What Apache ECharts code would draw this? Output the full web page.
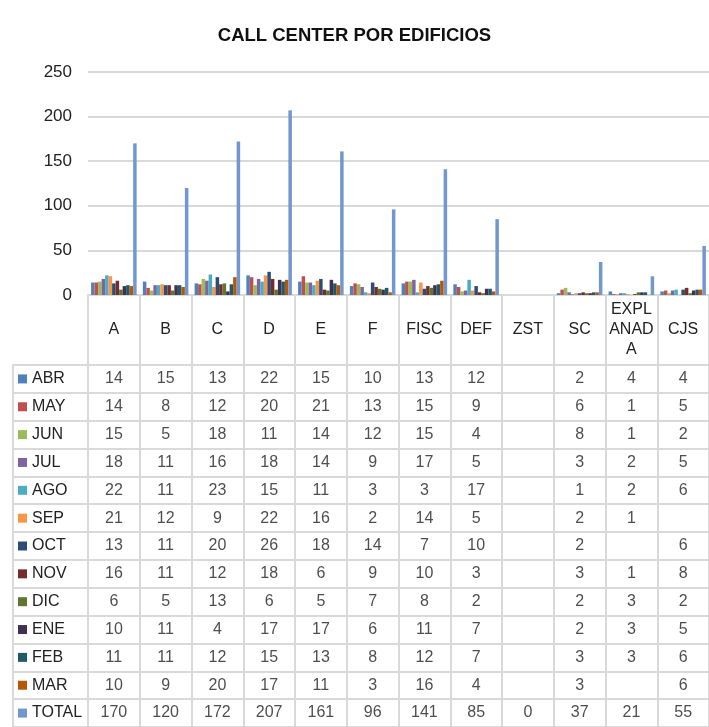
<!DOCTYPE html>
<html>
<head>
<meta charset="utf-8">
<script src="https://cdn.jsdelivr.net/npm/echarts@6/dist/echarts.min.js"></script>
<style>
html, body { margin: 0; padding: 0; background: #fff; }
#chart { width: 709px; height: 727px; }
</style>
</head>
<body>
<div id="chart"></div>
<script>
var edificios = ['A', 'B', 'C', 'D', 'E', 'F', 'FISC', 'DEF', 'ZST', 'SC', 'EXPLANADA', 'CJS'];
var meses = ['ABR', 'MAY', 'JUN', 'JUL', 'AGO', 'SEP', 'OCT', 'NOV', 'DIC', 'ENE', 'FEB', 'MAR', 'TOTAL'];

var abr = [14, 15, 13, 22, 15, 10, 13, 12, null, 2, 4, 4];
var may = [14, 8, 12, 20, 21, 13, 15, 9, null, 6, 1, 5];
var jun = [15, 5, 18, 11, 14, 12, 15, 4, null, 8, 1, 2];
var jul = [18, 11, 16, 18, 14, 9, 17, 5, null, 3, 2, 5];
var ago = [22, 11, 23, 15, 11, 3, 3, 17, null, 1, 2, 6];
var sep = [21, 12, 9, 22, 16, 2, 14, 5, null, 2, 1, null];
var oct = [13, 11, 20, 26, 18, 14, 7, 10, null, 2, null, 6];
var nov = [16, 11, 12, 18, 6, 9, 10, 3, null, 3, 1, 8];
var dic = [6, 5, 13, 6, 5, 7, 8, 2, null, 2, 3, 2];
var ene = [10, 11, 4, 17, 17, 6, 11, 7, null, 2, 3, 5];
var feb = [11, 11, 12, 15, 13, 8, 12, 7, null, 3, 3, 6];
var mar = [10, 9, 20, 17, 11, 3, 16, 4, null, 3, null, 6];
var total = [170, 120, 172, 207, 161, 96, 141, 85, 0, 37, 21, 55];

var valores = [abr, may, jun, jul, ago, sep, oct, nov, dic, ene, feb, mar, total];
var colores = ['#4F81BD', '#C0504D', '#9BBB59', '#8064A2', '#4BACC6', '#F79646',
               '#2C4D75', '#772C2A', '#5F7530', '#403152', '#215968', '#B65708', '#7297CF'];

var FONT = "'Liberation Sans', Arial, sans-serif";
var GRIS = '#d9d9d9';
var TEXTO = '#222';
var TAM = 16;

var myChart = echarts.init(document.getElementById('chart'));

// barras por mes
var series = meses.map(function (m, i) {
    return {
        name: m,
        type: 'bar',
        xAxisIndex: 0,
        yAxisIndex: 0,
        data: valores[i],
        itemStyle: { color: colores[i] },
        barGap: 0,
        barCategoryGap: '12%',
        silent: true
    };
});

// celdas de la tabla de datos
var celdas = [];
valores.forEach(function (fila, r) {
    fila.forEach(function (v, c) {
        if (v !== null) celdas.push([c, r, v]);
    });
});
series.push({
    type: 'scatter',
    xAxisIndex: 1,
    yAxisIndex: 1,
    data: celdas,
    symbolSize: 1,
    itemStyle: { color: 'transparent' },
    silent: true,
    label: {
        show: true,
        position: 'inside',
        formatter: function (p) { return p.value[2]; },
        fontFamily: FONT,
        fontSize: TAM,
        color: TEXTO
    }
});

var rich = {};
colores.forEach(function (c, i) {
    rich['s' + i] = { width: 9, height: 9, backgroundColor: c };
});
rich.t = { fontFamily: FONT, fontSize: TAM, color: TEXTO, padding: [0, 0, 0, 5] };

option = {
    backgroundColor: '#fff',
    animation: false,
    title: {
        text: 'CALL CENTER POR EDIFICIOS',
        left: 'center',
        top: 21,
        textStyle: { fontFamily: FONT, fontSize: 18.5, fontWeight: 'bold', color: '#111' }
    },
    grid: [
        { left: 88, right: -2, top: 72, height: 223 },
        { left: 88, right: -2, top: 365, bottom: -2, show: true, borderColor: GRIS, borderWidth: 2 }
    ],
    xAxis: [
        {
            type: 'category',
            gridIndex: 0,
            data: edificios,
            axisLine: { show: true, lineStyle: { color: GRIS, width: 2 } },
            axisTick: { show: true, length: 69, interval: 0, lineStyle: { color: GRIS, width: 2 } },
            axisLabel: {
                interval: 0,
                margin: 35,
                verticalAlign: 'middle',
                lineHeight: 20,
                fontFamily: FONT,
                fontSize: TAM,
                color: TEXTO,
                formatter: function (v) {
                    return v.length > 5 ? v.match(/.{1,4}/g).join('\n') : v;
                }
            }
        },
        {
            type: 'category',
            gridIndex: 1,
            data: edificios,
            axisLine: { show: false },
            axisTick: { show: false },
            axisLabel: { show: false },
            splitLine: { show: true, interval: 0, lineStyle: { color: GRIS, width: 2 } }
        }
    ],
    yAxis: [
        {
            type: 'value',
            gridIndex: 0,
            min: 0,
            max: 250,
            interval: 50,
            axisLine: { show: false },
            axisTick: { show: false },
            axisLabel: { margin: 16, fontFamily: FONT, fontSize: TAM + 1, color: TEXTO },
            splitLine: { lineStyle: { color: GRIS, width: 2 } }
        },
        {
            type: 'category',
            gridIndex: 1,
            inverse: true,
            data: meses,
            axisLine: { show: false },
            axisTick: { show: true, length: 75, interval: 0, lineStyle: { color: GRIS, width: 2 } },
            axisLabel: {
                interval: 0,
                margin: 70,
                align: 'left',
                formatter: function (v, i) { return '{s' + i + '|}{t|' + v + '}'; },
                rich: rich
            },
            splitLine: { show: true, interval: 0, lineStyle: { color: GRIS, width: 2 } }
        },
        {
            type: 'category',
            gridIndex: 1,
            position: 'left',
            offset: 75,
            inverse: true,
            data: meses,
            axisLine: { show: true, lineStyle: { color: GRIS, width: 2 } },
            axisTick: { show: false },
            axisLabel: { show: false },
            splitLine: { show: false }
        }
    ],
    series: series
};

option && myChart.setOption(option);
</script>
</body>
</html>
